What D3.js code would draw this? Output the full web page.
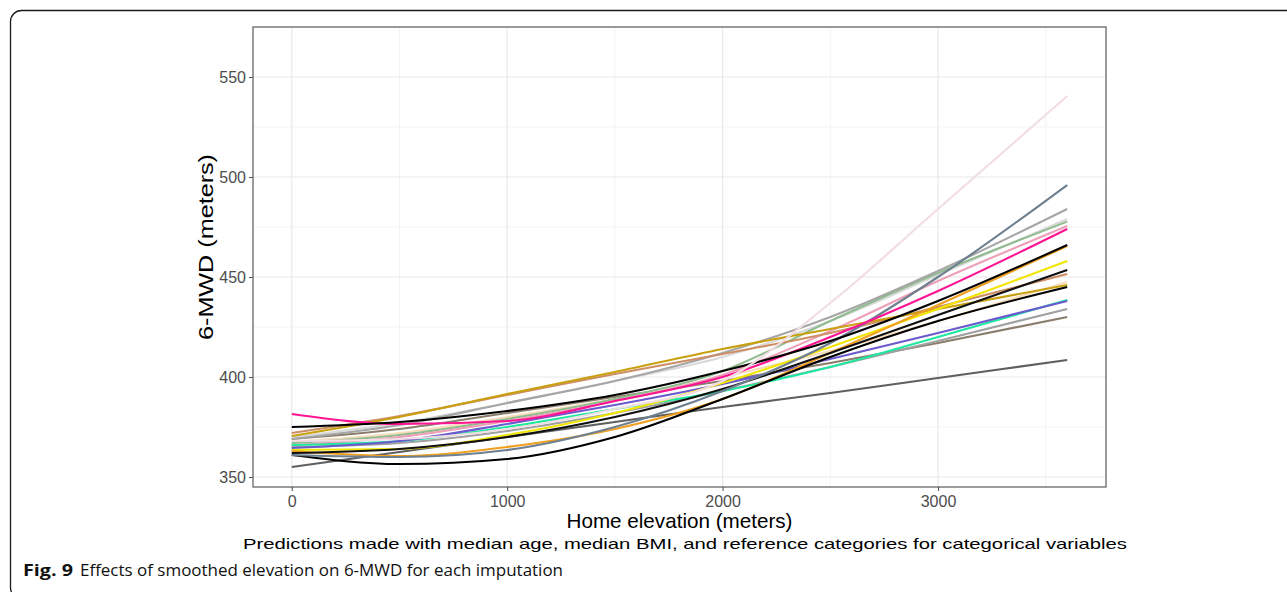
<!DOCTYPE html>
<html>
<head>
<meta charset="utf-8">
<script src="https://cdn.jsdelivr.net/npm/d3@7/dist/d3.min.js"></script>
<style>
  html, body { margin: 0; padding: 0; background: #fff; }
  svg { display: block; }
  text { font-family: "Liberation Sans", Arial, sans-serif; }
</style>
</head>
<body>
<svg id="chart" width="1287" height="592"></svg>
<script>
// Elevation grid (meters) at which each imputation's fitted curve is tabulated
const elevation = [0, 500, 1000, 1500, 2000, 2500, 3000, 3600];

// Predicted 6-MWD (meters) per imputation, one array per fitted model
const impDeepPink   = [381.5, 376.5, 378, 388, 400, 420, 443, 474];
const impBlackA     = [375, 377.5, 383, 391, 403, 418, 438, 466];
const impGold       = [370.5, 380, 391.5, 402.5, 414, 424, 434, 446];
const impPeru       = [372, 380.5, 391, 401.5, 411.5, 422, 435, 451.5];
const impDarkGray   = [369, 376, 387, 398, 412, 430, 453, 484];
const impSlateGray  = [361, 360, 363.5, 375, 393, 417, 450, 496];
const impOrange     = [363, 360.5, 365, 374, 389, 412, 436, 465.5];
const impYellow     = [363.5, 364, 371, 382, 397, 415, 434, 458];
const impSpringGrn  = [366, 368, 375, 384, 393, 405, 420, 438.5];
const impSlateBlue  = [364.5, 368, 376.5, 386, 396.5, 409, 422, 438];
const impDimGray    = [355, 362.5, 370, 377.5, 385, 392, 399.5, 408.5];
const impBlush      = [368, 369, 374, 384, 398, 437, 484, 540.5];
const impSeaGreen   = [367, 371, 379, 389, 403, 428, 452, 477.7];
const impPink       = [366, 370, 378, 388, 401, 423, 448, 475.5];
const impLightGray  = [370, 377, 387, 398, 410, 428, 451, 479];
const impBlackB     = [362, 364, 370, 380, 394, 412, 431, 453.5];
const impBlackC     = [361, 356.5, 359, 370, 389, 410, 428, 445];
const impGray       = [365, 367, 373, 382, 393, 405, 418, 434];
const impTaupe      = [369, 374, 382, 390, 398, 407, 417, 430];
const impBisque     = [367.5, 372, 380, 389, 400, 413, 428, 447.5];

// Axis ticks
const xTicks = [0, 1000, 2000, 3000];
const xMinor = [500, 1500, 2500, 3500];
const yTicks = [350, 400, 450, 500, 550];
const yMinor = [375, 425, 475, 525];

// Curves, in drawing order, with their line colours
const curves = [
  { values: impDimGray,   color: "#5f5f5f" },
  { values: impTaupe,     color: "#8b7d6b" },
  { values: impGray,      color: "#a0a0a0" },
  { values: impBisque,    color: "#f7dcb9" },
  { values: impLightGray, color: "#d9d9d9" },
  { values: impSeaGreen,  color: "#8fbc8f" },
  { values: impPink,      color: "#ee9fb8" },
  { values: impDarkGray,  color: "#a6a6a6" },
  { values: impPeru,      color: "#cd8e66" },
  { values: impGold,      color: "#c9a10f" },
  { values: impSpringGrn, color: "#1de9a0" },
  { values: impSlateBlue, color: "#6a5acd" },
  { values: impYellow,    color: "#f2e600" },
  { values: impOrange,    color: "#f0a020" },
  { values: impBlackB,    color: "#111111" },
  { values: impBlackC,    color: "#000000" },
  { values: impSlateGray, color: "#6e7f90" },
  { values: impDeepPink,  color: "#ff1493" },
  { values: impBlackA,    color: "#000000" },
  { values: impBlush,     color: "#f1dde3" }
];

const svg = d3.select("#chart");

// Figure frame (rounded, running off the right and bottom edges)
svg.append("rect")
  .attr("x", 10.5).attr("y", 10.5)
  .attr("width", 1300).attr("height", 588)
  .attr("rx", 11).attr("ry", 11)
  .attr("fill", "none").attr("stroke", "#1a1a1a").attr("stroke-width", 1.3);

// Panel geometry
const panel = { left: 253, right: 1106, top: 27, bottom: 487 };

const x = d3.scaleLinear().domain([-180, 3780]).range([panel.left, panel.right]);
const y = d3.scaleLinear().domain([345, 575]).range([panel.bottom, panel.top]);

const g = svg.append("g");

// Grid: minor then major
g.append("g").selectAll("line").data(xMinor).join("line")
  .attr("x1", d => x(d)).attr("x2", d => x(d))
  .attr("y1", panel.top).attr("y2", panel.bottom)
  .attr("stroke", "#f3f3f3").attr("stroke-width", 1);
g.append("g").selectAll("line").data(yMinor).join("line")
  .attr("y1", d => y(d)).attr("y2", d => y(d))
  .attr("x1", panel.left).attr("x2", panel.right)
  .attr("stroke", "#f3f3f3").attr("stroke-width", 1);
g.append("g").selectAll("line").data(xTicks).join("line")
  .attr("x1", d => x(d)).attr("x2", d => x(d))
  .attr("y1", panel.top).attr("y2", panel.bottom)
  .attr("stroke", "#e8e8e8").attr("stroke-width", 1.2);
g.append("g").selectAll("line").data(yTicks).join("line")
  .attr("y1", d => y(d)).attr("y2", d => y(d))
  .attr("x1", panel.left).attr("x2", panel.right)
  .attr("stroke", "#e8e8e8").attr("stroke-width", 1.2);

// Fitted curves
const line = d3.line()
  .x((d, i) => x(elevation[i]))
  .y(d => y(d))
  .curve(d3.curveMonotoneX);

g.append("g").selectAll("path").data(curves).join("path")
  .attr("d", d => line(d.values))
  .attr("fill", "none")
  .attr("stroke", d => d.color)
  .attr("stroke-width", 2.1)
  .attr("stroke-linejoin", "round")
  .attr("stroke-linecap", "butt");

// Panel border
g.append("rect")
  .attr("x", panel.left).attr("y", panel.top)
  .attr("width", panel.right - panel.left).attr("height", panel.bottom - panel.top)
  .attr("fill", "none").attr("stroke", "#666").attr("stroke-width", 1.3);

// Axes
const xAxis = d3.axisBottom(x).tickValues(xTicks).tickSize(4).tickPadding(5).tickFormat(d3.format("d"));
const yAxis = d3.axisLeft(y).tickValues(yTicks).tickSize(4).tickPadding(3).tickFormat(d3.format("d"));

const gx = svg.append("g").attr("transform", `translate(0,${panel.bottom})`).call(xAxis);
const gy = svg.append("g").attr("transform", `translate(${panel.left},0)`).call(yAxis);
[gx, gy].forEach(a => {
  a.select(".domain").remove();
  a.selectAll(".tick line").attr("stroke", "#555").attr("stroke-width", 1.1);
  a.selectAll(".tick text")
    .attr("fill", "#4d4d4d")
    .style("font-family", "'Liberation Sans', Arial, sans-serif")
    .style("font-size", "16px");
});

// Axis titles
svg.append("text")
  .attr("x", (panel.left + panel.right) / 2).attr("y", 528)
  .attr("text-anchor", "middle")
  .style("font-size", "21px").attr("fill", "#000")
  .attr("textLength", 226).attr("lengthAdjust", "spacingAndGlyphs")
  .text("Home elevation (meters)");

svg.append("text")
  .attr("transform", `translate(213,${(panel.top + panel.bottom) / 2 - 10}) rotate(-90)`)
  .attr("text-anchor", "middle")
  .style("font-size", "20px").attr("fill", "#000")
  .attr("textLength", 186).attr("lengthAdjust", "spacingAndGlyphs")
  .text("6-MWD (meters)");

// Note under the axis title
svg.append("text")
  .attr("x", 685).attr("y", 549)
  .attr("text-anchor", "middle")
  .style("font-size", "14.5px").attr("fill", "#000")
  .attr("textLength", 884).attr("lengthAdjust", "spacingAndGlyphs")
  .text("Predictions made with median age, median BMI, and reference categories for categorical variables");

// Figure caption
svg.append("text")
  .attr("x", 23).attr("y", 576)
  .style("font-family", "'Open Sans', 'Noto Sans', sans-serif")
  .style("font-size", "16px").style("font-weight", "bold").attr("fill", "#111")
  .attr("textLength", 50).attr("lengthAdjust", "spacingAndGlyphs")
  .text("Fig. 9");
svg.append("text")
  .attr("x", 80).attr("y", 576)
  .style("font-family", "'Open Sans', 'Noto Sans', sans-serif")
  .style("font-size", "16px").attr("fill", "#111")
  .attr("textLength", 483).attr("lengthAdjust", "spacingAndGlyphs")
  .text("Effects of smoothed elevation on 6-MWD for each imputation");
</script>
</body>
</html>
